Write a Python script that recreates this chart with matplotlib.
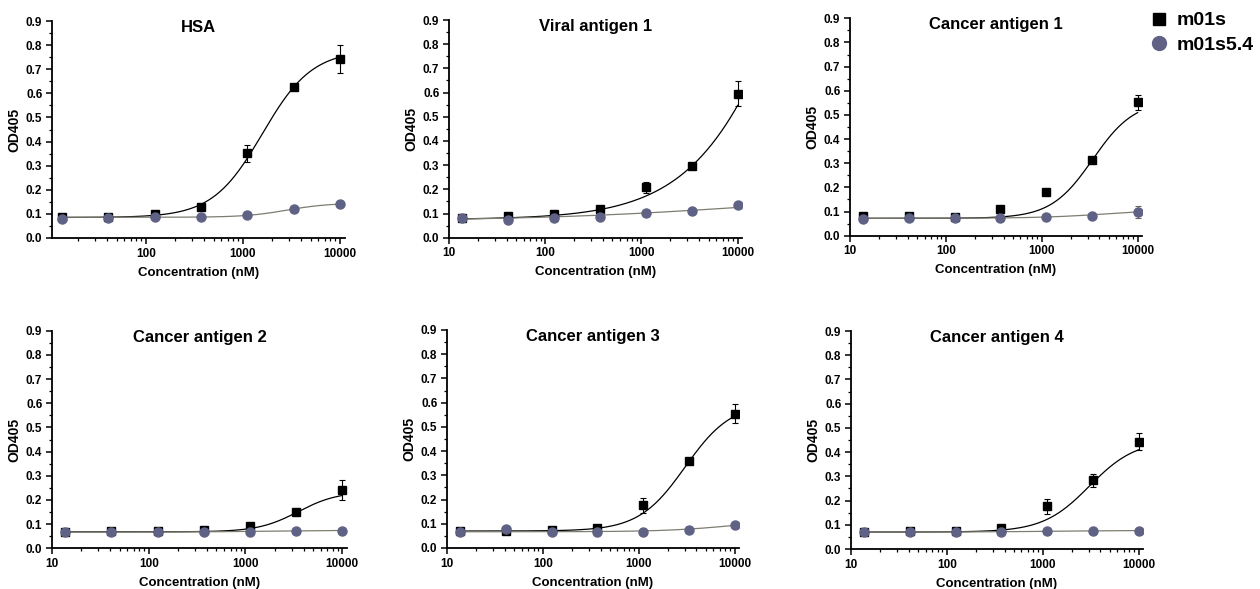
import matplotlib
matplotlib.use("Agg")
import matplotlib.pyplot as plt
import matplotlib.ticker
from matplotlib.lines import Line2D
import numpy as np

plt.rcParams["font.family"] = ["Liberation Sans", "DejaVu Sans"]
plt.rcParams["font.weight"] = "bold"

titles = ["HSA", "Viral antigen 1", "Cancer antigen 1",
          "Cancer antigen 2", "Cancer antigen 3", "Cancer antigen 4"]

conc = [13.7, 41.2, 123.5, 370.4, 1111, 3333, 10000]

# m01s, mean OD405 and SD per panel
m01s_od = [
    [0.088, 0.086, 0.098, 0.130, 0.351, 0.627, 0.743],
    [0.083, 0.088, 0.099, 0.120, 0.208, 0.298, 0.596],
    [0.083, 0.080, 0.079, 0.109, 0.182, 0.313, 0.552],
    [0.068, 0.070, 0.072, 0.074, 0.094, 0.149, 0.240],
    [0.070, 0.070, 0.074, 0.081, 0.176, 0.359, 0.554],
    [0.072, 0.074, 0.074, 0.085, 0.176, 0.284, 0.443],
]
m01s_sd = [
    [0.005, 0.005, 0.006, 0.006, 0.036, 0.006, 0.057],
    [0.005, 0.005, 0.005, 0.006, 0.023, 0.010, 0.052],
    [0.005, 0.004, 0.004, 0.005, 0.006, 0.008, 0.032],
    [0.004, 0.004, 0.004, 0.004, 0.006, 0.006, 0.041],
    [0.004, 0.006, 0.006, 0.005, 0.030, 0.008, 0.039],
    [0.005, 0.006, 0.008, 0.005, 0.030, 0.026, 0.036],
]

# m01s5.4
m01s54_od = [
    [0.080, 0.085, 0.086, 0.087, 0.094, 0.122, 0.140],
    [0.081, 0.073, 0.081, 0.087, 0.104, 0.112, 0.134],
    [0.069, 0.075, 0.072, 0.072, 0.077, 0.083, 0.098],
    [0.068, 0.068, 0.069, 0.066, 0.069, 0.072, 0.073],
    [0.068, 0.077, 0.068, 0.067, 0.067, 0.076, 0.094],
    [0.071, 0.071, 0.070, 0.071, 0.073, 0.076, 0.076],
]
m01s54_sd = [
    [0.004, 0.004, 0.004, 0.004, 0.004, 0.005, 0.005],
    [0.004, 0.004, 0.004, 0.004, 0.004, 0.005, 0.005],
    [0.004, 0.004, 0.004, 0.004, 0.004, 0.005, 0.025],
    [0.004, 0.004, 0.004, 0.004, 0.004, 0.004, 0.004],
    [0.004, 0.004, 0.004, 0.004, 0.004, 0.004, 0.005],
    [0.004, 0.004, 0.004, 0.004, 0.004, 0.004, 0.004],
]

# 4PL fit parameters: bottom, top, EC50, hill
m01s_fit = [
    (0.085, 0.78, 1590, 1.69),
    (0.075, 2.5, 59000, 0.8),
    (0.072, 0.56, 3400, 2.0),
    (0.068, 0.235, 3500, 2.1),
    (0.070, 0.60, 3050, 1.8),
    (0.070, 0.45, 3070, 1.8),
]
m01s54_fit = [
    (0.086, 0.145, 2840, 2.0),
    (0.070, 0.18, 10000, 0.4),
    (0.072, 0.11, 5000, 1.2),
    (0.067, 0.075, 2000, 1.0),
    (0.067, 0.12, 10000, 1.2),
    (0.070, 0.077, 1500, 1.0),
]

# axes boxes in pixels: left, right, top, bottom
boxes = [
    (52, 345, 21, 238), (449, 742, 20, 237.7), (850, 1142, 18.3, 235.7),
    (52, 347, 330.7, 548.3), (447, 739, 330, 548), (851, 1143, 331, 549),
]
xlims = [(10.8, 11300), (10, 11100), (10, 11100),
         (10, 11200), (10, 11100), (10, 11100)]

W, H = 1260, 589
sq_color = "black"
ci_color = "#5f6185"
line2_color = "#7d7d70"


def four_pl(x, p):
    b, t, c, h = p
    return b + (t - b) / (1 + (c / x) ** h)


fig = plt.figure(figsize=(W / 100, H / 100), dpi=100)

for i in range(6):
    l, r, t, b = boxes[i]
    ax = fig.add_axes([l / W, 1 - b / H, (r - l) / W, (b - t) / H])
    xs = np.geomspace(conc[0], conc[-1], 300)

    ax.plot(xs, four_pl(xs, m01s_fit[i]), color="black", lw=0.9, zorder=2)
    ax.plot(xs, four_pl(xs, m01s54_fit[i]), color=line2_color, lw=0.9, zorder=2)

    ax.errorbar(conc, m01s_od[i], yerr=m01s_sd[i], fmt="s", color=sq_color,
                ms=5.3, capsize=2.5, elinewidth=0.8, capthick=0.8, zorder=3)
    ax.errorbar(conc, m01s54_od[i], yerr=m01s54_sd[i], fmt="o", color=ci_color,
                ecolor="#666666", ms=6.5, capsize=2.5, elinewidth=0.8,
                capthick=0.8, zorder=4)

    ax.set_xscale("log")
    ax.set_xlim(*xlims[i])
    ax.set_ylim(0, 0.9)
    ax.xaxis.set_major_locator(matplotlib.ticker.FixedLocator([10, 100, 1000, 10000]))
    ax.xaxis.set_major_formatter(matplotlib.ticker.FormatStrFormatter("%.0f"))
    ax.xaxis.set_minor_locator(matplotlib.ticker.LogLocator(subs=np.arange(2, 10)))
    ax.xaxis.set_minor_formatter(matplotlib.ticker.NullFormatter())
    ax.yaxis.set_major_locator(matplotlib.ticker.MultipleLocator(0.1))
    ax.yaxis.set_minor_locator(matplotlib.ticker.MultipleLocator(0.05))
    ax.yaxis.set_major_formatter(matplotlib.ticker.FormatStrFormatter("%.1f"))

    for s in ["top", "right"]:
        ax.spines[s].set_visible(False)
    for s in ["left", "bottom"]:
        ax.spines[s].set_linewidth(1.3)
    ax.tick_params(which="major", length=4, width=1.1, labelsize=8.5, pad=3)
    ax.tick_params(which="minor", length=2.2, width=0.9)

    ax.set_xlabel("Concentration (nM)", fontsize=9.5, fontweight="bold", labelpad=5)
    ax.set_ylabel("OD405", fontsize=10, fontweight="bold", labelpad=3)
    ax.text(0.5, 0.97, titles[i], transform=ax.transAxes, ha="center", va="center",
            fontsize=12, fontweight="bold")

handles = [
    Line2D([], [], ls="none", marker="s", ms=8, color=sq_color),
    Line2D([], [], ls="none", marker="o", ms=10, color=ci_color),
]
fig.legend(handles, ["m01s", "m01s5.4"], loc="upper left",
           bbox_to_anchor=(1141 / W, 1 - 4 / H), frameon=False,
           prop={"size": 14, "weight": "bold"}, handlelength=1.0,
           handletextpad=0.45, labelspacing=0.35, borderaxespad=0)

fig.savefig("out.png", dpi=100)
